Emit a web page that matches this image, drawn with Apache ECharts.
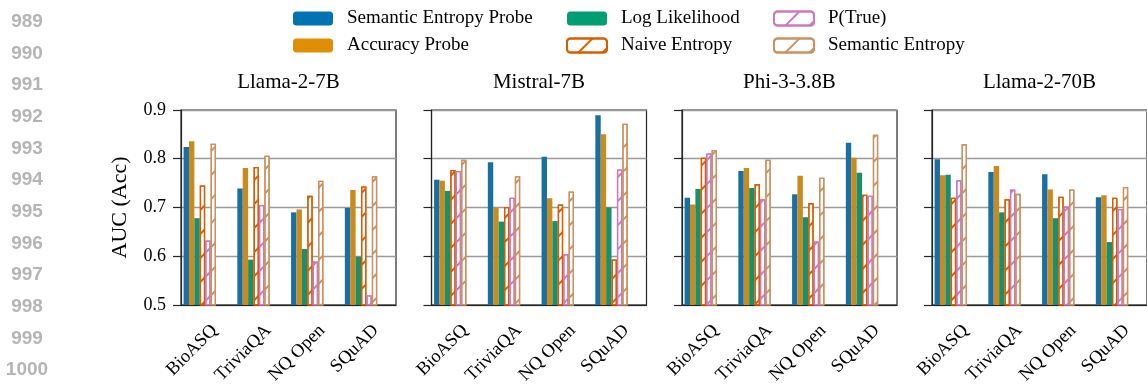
<!DOCTYPE html>
<html><head><meta charset="utf-8">
<script src="https://cdn.jsdelivr.net/npm/echarts@6/dist/echarts.min.js"></script>
<style>html,body{margin:0;padding:0;background:#fff}#c{width:1147px;height:387px}</style>
</head><body><div id="c"></div>
<script>
// ---- data ----
const lineNumbers = ['989','990','991','992','993','994','995','996','997','998','999','1000'];
const models = ['Llama-2-7B', 'Mistral-7B', 'Phi-3-3.8B', 'Llama-2-70B'];
const categories = ['BioASQ', 'TriviaQA', 'NQ Open', 'SQuAD'];
const seriesNames = ['Semantic Entropy Probe', 'Accuracy Probe', 'Log Likelihood', 'Naive Entropy', 'P(True)', 'Semantic Entropy'];
const yMin = 0.5, yMax = 0.9, yStep = 0.1;
// one row per model (Llama-2-7B, Mistral-7B, Phi-3-3.8B, Llama-2-70B), columns = categories
const semanticEntropyProbe = [
  [0.824, 0.739, 0.690, 0.699],
  [0.757, 0.793, 0.804, 0.889],
  [0.720, 0.775, 0.727, 0.833],
  [0.799, 0.773, 0.768, 0.721]
];
const accuracyProbe = [
  [0.836, 0.781, 0.696, 0.736],
  [0.755, 0.699, 0.719, 0.850],
  [0.706, 0.781, 0.765, 0.802],
  [0.766, 0.785, 0.737, 0.725]
];
const logLikelihood = [
  [0.678, 0.593, 0.615, 0.599],
  [0.734, 0.671, 0.672, 0.700],
  [0.738, 0.740, 0.680, 0.771],
  [0.767, 0.690, 0.678, 0.629]
];
const naiveEntropy = [
  [0.745, 0.783, 0.724, 0.743],
  [0.777, 0.701, 0.706, 0.593],
  [0.802, 0.748, 0.709, 0.726],
  [0.720, 0.717, 0.722, 0.720]
];
const pTrue = [
  [0.632, 0.705, 0.589, 0.520],
  [0.775, 0.720, 0.604, 0.778],
  [0.811, 0.717, 0.630, 0.724],
  [0.756, 0.737, 0.702, 0.697]
];
const semanticEntropy = [
  [0.831, 0.806, 0.755, 0.764],
  [0.798, 0.764, 0.733, 0.872],
  [0.818, 0.798, 0.761, 0.849],
  [0.830, 0.728, 0.737, 0.742]
];
const seriesValues = [semanticEntropyProbe, accuracyProbe, logLikelihood, naiveEntropy, pTrue, semanticEntropy];

// ---- styles ----
const SERIF = '"Liberation Serif", "Times New Roman", serif';
const barColors = ['#1a6fa2', '#c98a1f', '#1a8f6c', '#d55e00', '#cc78bc', '#ca9161'];
const legendColors = ['#0173b2', '#de8f05', '#029e73'];
const hatched = [false, false, false, true, true, true];
const gridLefts = [181, 431.5, 682, 932];
const gridTop = 110, gridW = 215, gridH = 197;
const BW = 5.4;

function hatchDecal(color) {
  return { symbol: 'rect', symbolSize: 1, dashArrayX: [1, 0], dashArrayY: [2, 15], rotation: -Math.PI / 4, color: color };
}

const grids = [], xAxes = [], yAxes = [], series = [], titles = [];
models.forEach((m, mi) => {
  grids.push({ left: gridLefts[mi], top: gridTop, width: gridW, height: gridH, show: true, borderColor: '#262626', borderWidth: 1.2, backgroundColor: 'transparent' });
  titles.push({ text: m, left: gridLefts[mi] + gridW / 2, top: 72, textAlign: 'center', padding: 0,
    textStyle: { fontFamily: SERIF, fontSize: 21, fontWeight: 'normal', color: '#000' } });
  xAxes.push({ type: 'category', gridIndex: mi, data: categories,
    axisLine: { lineStyle: { color: '#262626', width: 1.2 } },
    axisTick: { alignWithLabel: true, length: 7, lineStyle: { color: '#262626', width: 1.2 } },
    axisLabel: { rotate: 45, margin: 16, fontFamily: SERIF, fontSize: 18.5, color: '#000', verticalAlign: 'top' } });
  yAxes.push({ type: 'value', gridIndex: mi, min: yMin, max: yMax, interval: yStep,
    name: mi === 0 ? 'AUC (Acc)' : '', nameLocation: 'middle', nameGap: 50,
    nameTextStyle: { fontFamily: SERIF, fontSize: 22, color: '#000' },
    axisLine: { show: true, lineStyle: { color: '#262626', width: 1.2 } },
    axisTick: { show: true, length: 8, lineStyle: { color: '#262626', width: 1.2 } },
    axisLabel: { show: mi === 0, margin: 15, fontFamily: SERIF, fontSize: 18, color: '#000',
      formatter: v => v.toFixed(1) },
    splitLine: { show: true, lineStyle: { color: '#9a9a9a', width: 1.4 } } });
  seriesNames.forEach((name, si) => {
    const itemStyle = hatched[si]
      ? { color: '#fff', borderColor: barColors[si], borderWidth: 1.3, decal: hatchDecal(barColors[si]) }
      : { color: barColors[si] };
    series.push({ type: 'bar', name: name, xAxisIndex: mi, yAxisIndex: mi, data: seriesValues[si][mi],
      barWidth: BW, barGap: '0%', itemStyle: itemStyle, animation: false });
  });
  for (let p = 0; p < 3; p++) {
    series.push({ type: 'bar', name: '_pad', xAxisIndex: mi, yAxisIndex: mi, data: categories.map(() => null),
      barWidth: BW, barGap: '0%', silent: true, animation: false });
  }
});

function legendItem(i) {
  return hatched[i] ? { name: seriesNames[i] } : { name: seriesNames[i], itemStyle: { color: legendColors[i] } };
}
const legendLefts = [293, 566, 773];
const legends = legendLefts.map((l, ci) => ({
  orient: 'vertical', left: l, top: 9, padding: 0, itemWidth: 40, itemHeight: 14, itemGap: 8,
  selectedMode: false, data: [legendItem(ci * 2), legendItem(ci * 2 + 1)],
  textStyle: { fontFamily: SERIF, fontSize: 19, color: '#000', padding: [0, 0, 0, 9] }
}));

const graphics = lineNumbers.map((t, i) => ({
  type: 'text', x: 27, y: 21.7 + i * 31.67, silent: true,
  style: { text: t, fill: '#b5b5b5', font: 'bold 19px "Liberation Sans", Arial, sans-serif', align: 'center', verticalAlign: 'middle' }
}));

const chart = echarts.init(document.getElementById('c'), null, { renderer: 'canvas' });
chart.setOption({
  animation: false,
  backgroundColor: '#fff',
  aria: { enabled: false, decal: { show: false } },
  title: titles,
  legend: legends,
  grid: grids,
  xAxis: xAxes,
  yAxis: yAxes,
  series: series,
  graphic: graphics
});
</script></body></html>
